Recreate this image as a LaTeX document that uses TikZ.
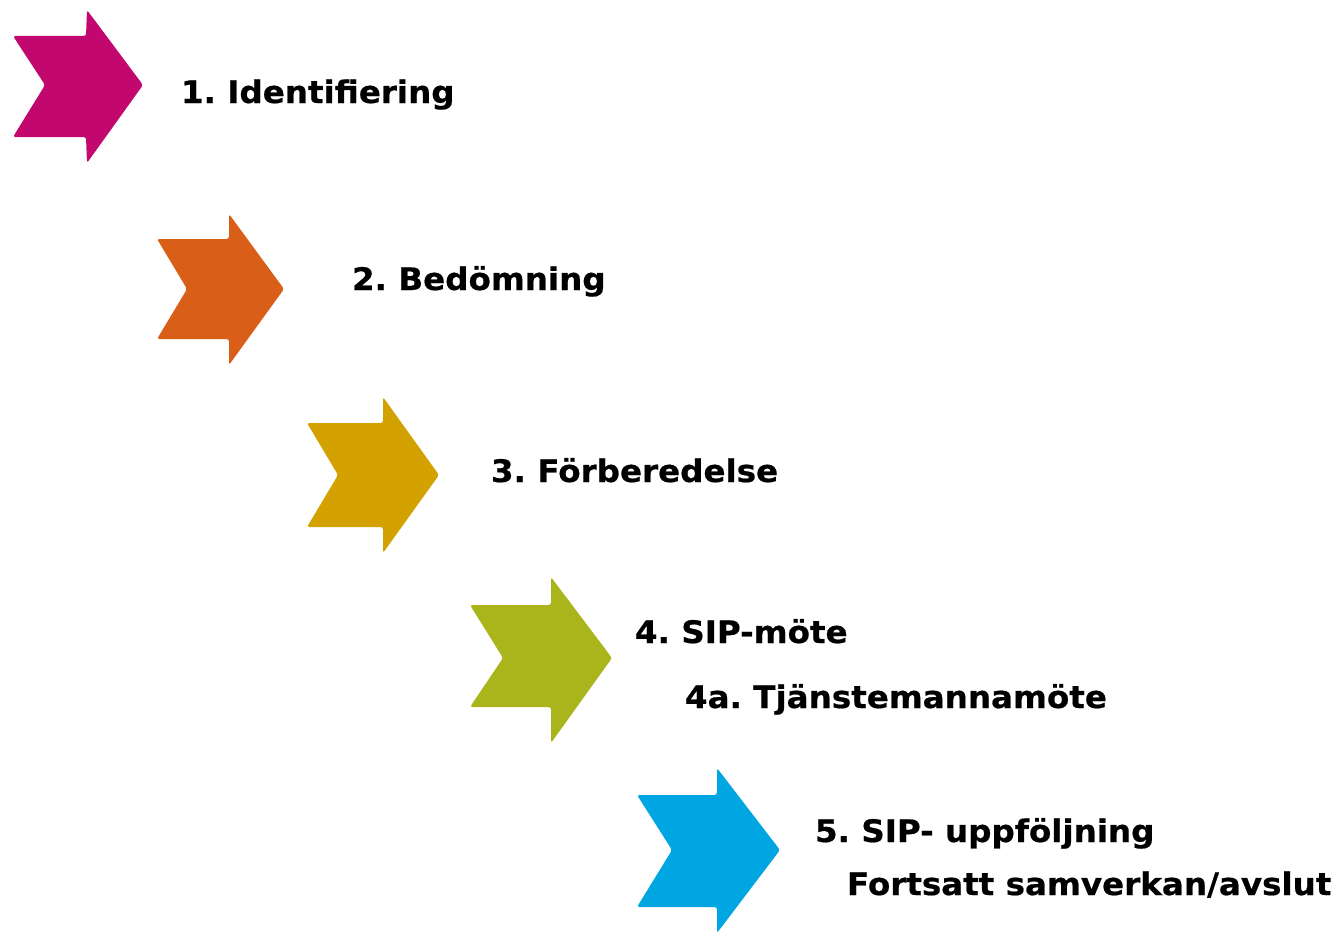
\documentclass[tikz,border=0pt]{standalone}
\usepackage{fontspec}
\setmainfont{DejaVu Sans}[FakeStretch=1.05,BoldFeatures={FakeBold=0.6}]
\definecolor{identif}{HTML}{C2086F}
\definecolor{bedom}{HTML}{D95F18}
\definecolor{forber}{HTML}{D4A200}
\definecolor{sipmote}{HTML}{A9B51B}
\definecolor{uppfolj}{HTML}{00A6E1}
\frenchspacing
\begin{document}
\begin{tikzpicture}[x=1pt,y=-1pt,font=\fontsize{31}{37}\selectfont\bfseries,
    lbl/.style={anchor=base west,inner sep=0pt,outer sep=0pt},
    chev/.style={rounded corners=2.5pt}]
      \useasboundingbox (0,0) rectangle (1337,934);
      \fill[identif,chev] (13,36) -- (86,36) -- (87,10) -- (143,85) -- (87,163) -- (86,137) -- (13,137) -- (45,85) -- cycle;
      \fill[bedom,chev] (157,239) -- (229,239) -- (229,214) -- (284,289) -- (229,365) -- (229,339) -- (157,339) -- (187,289) -- cycle;
      \fill[forber,chev] (307,423) -- (383,423) -- (383,397) -- (439,475) -- (383,553) -- (383,527) -- (307,527) -- (338,475) -- cycle;
      \fill[sipmote,chev] (470,605) -- (551,605) -- (551,577) -- (612,658) -- (551,743) -- (551,707) -- (470,707) -- (503,658) -- cycle;
      \fill[uppfolj,chev] (637,795) -- (717,795) -- (717,768) -- (780,850) -- (717,933) -- (717,907) -- (637,907) -- (672,850) -- cycle;
      \node[lbl] (identifiering) at (181,103) {1. Identifiering};
      \node[lbl] (bedomning) at (352,290) {2. Bedömning};
      \node[lbl] (forberedelse) at (491,482) {3. Förberedelse};
      \node[lbl] (sipmote) at (635,643) {4. SIP-möte};
      \node[lbl] (tjansteman) at (685,708) {4a. Tjänstemannamöte};
      \node[lbl] (uppfoljning) at (815,842) {5. SIP- uppföljning};
      \node[lbl] (avslut) at (847,895) {Fortsatt samverkan/avslut};
    \end{tikzpicture}
\end{document}
